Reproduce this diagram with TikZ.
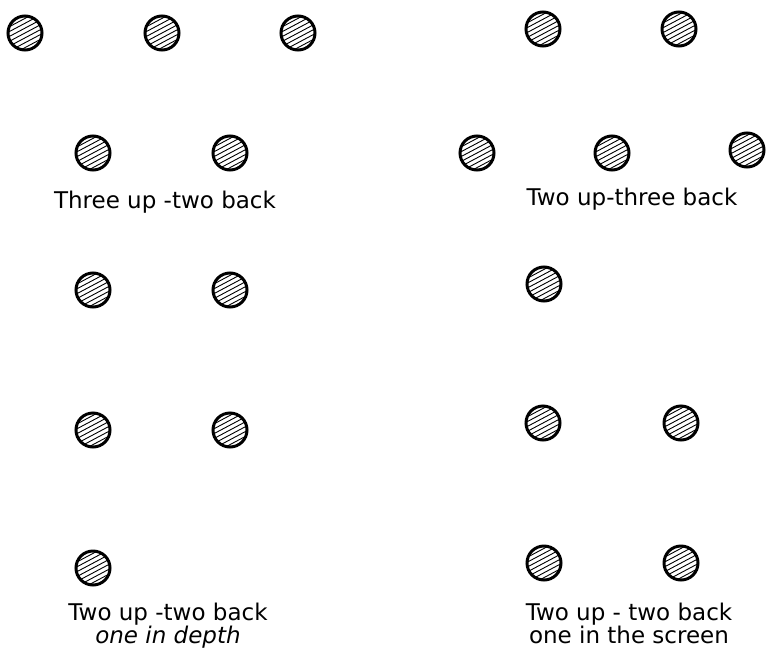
\documentclass[tikz,border=0pt]{standalone}
\usepackage{fontspec}
\setmainfont{DejaVu Sans}
\usetikzlibrary{positioning}
\tikzset{
  dot/.style={circle,draw,line width=3pt,minimum size=34pt,inner sep=0pt,
    path picture={
      \foreach \k in {-4,...,4}
        \draw[line width=0.9pt](path picture bounding box.center)
          ++(62:\k*4.3)++(-28:-24)--++(-28:48);}},
  caption/.style={font=\fontsize{23}{21}\selectfont,align=center,inner sep=0pt}
}
\begin{document}
\begin{tikzpicture}[x=1pt,y=-1pt]
  \useasboundingbox (0,0) rectangle (768,648);
  % Three up - two back
  \node[dot] (a1) at (25,33) {};
  \node[dot] (a2) at (162,33) {};
  \node[dot] (a3) at (298,33) {};
  \node[dot] (a4) at (93,153) {};
  \node[dot] (a5) at (230,153) {};
  \node[caption,anchor=base] (la) at (165,208) {Three up -two back};
  % Two up - three back
  \node[dot] (b1) at (543,29) {};
  \node[dot] (b2) at (679,29) {};
  \node[dot] (b3) at (477,153) {};
  \node[dot] (b4) at (612,153) {};
  \node[dot] (b5) at (747,150) {};
  \node[caption,anchor=base] (lb) at (632,205) {Two up-three back};
  % Two up - two back, one in depth
  \node[dot] (c1) at (93,290) {};
  \node[dot] (c2) at (230,290) {};
  \node[dot] (c3) at (93,430) {};
  \node[dot] (c4) at (230,430) {};
  \node[dot] (c5) at (93,568) {};
  \node[caption,anchor=north] (lc) at (168,603) {Two up -two back\\\textit{one in depth}};
  % Two up - two back, one in the screen
  \node[dot] (d1) at (544,284) {};
  \node[dot] (d2) at (543,423) {};
  \node[dot] (d3) at (681,423) {};
  \node[dot] (d4) at (544,563) {};
  \node[dot] (d5) at (681,563) {};
  \node[caption,anchor=north] (ld) at (629,603) {Two up - two back\\one in the screen};
\end{tikzpicture}
\end{document}
